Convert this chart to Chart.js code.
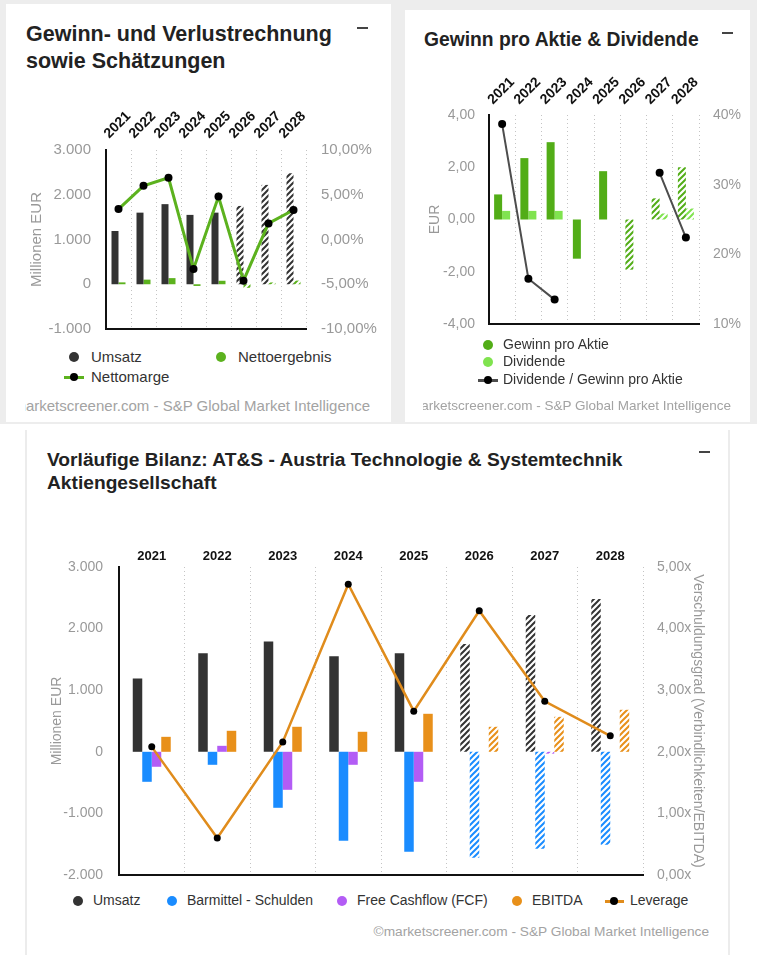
<!DOCTYPE html>
<html>
<head>
<meta charset="utf-8">
<script src="https://cdn.jsdelivr.net/npm/chart.js@4.4.1/dist/chart.umd.min.js"></script>
<style>
  body { margin: 0; width: 757px; height: 960px; background: #fff; position: relative; overflow: hidden;
         font-family: "Liberation Sans", Arial, sans-serif; }
  .band { position: absolute; left: 0; top: 0; width: 757px; height: 424px; background: #ededed; }
  .card { position: absolute; background: #fff; }
  .title { position: absolute; font-weight: bold; color: #222; white-space: nowrap; }
  .dash { position: absolute; width: 11px; height: 2px; background: #444; }
  canvas { position: absolute; }
  .lg { position: absolute; color: #333; white-space: nowrap; }
  .dot { position: absolute; border-radius: 50%; }
  .bar { position: absolute; height: 3px; }
  .foot { position: absolute; overflow: hidden; white-space: nowrap; color: #a3a3a3; }
  .foot span { position: absolute; right: 0; top: 0; }
</style>
</head>
<body>
<div class="band"></div>

<!-- Karte 1 -->
<div class="card" style="left:6px;top:4px;width:385px;height:418px"></div>
<div class="title" style="left:26px;top:21px;font-size:21.5px;line-height:27px">Gewinn- und Verlustrechnung<br>sowie Schätzungen</div>
<div class="dash" style="left:357px;top:27px"></div>
<canvas id="guv" width="360" height="256" style="left:20px;top:90px"></canvas>
<div class="dot" style="left:69px;top:352px;width:10px;height:10px;background:#333"></div>
<div class="lg" style="left:91px;top:348px;font-size:15px;line-height:18px">Umsatz</div>
<div class="dot" style="left:216px;top:352px;width:10px;height:10px;background:#5cb21e"></div>
<div class="lg" style="left:238px;top:348px;font-size:15px;line-height:18px">Nettoergebnis</div>
<div class="bar" style="left:64px;top:376px;width:20px;background:#5cb21e"></div>
<div class="dot" style="left:70px;top:373px;width:8px;height:8px;background:#000"></div>
<div class="lg" style="left:91px;top:368px;font-size:15px;line-height:18px">Nettomarge</div>
<div class="foot" style="left:25px;top:396px;width:345px;height:19px;font-size:15px;line-height:19px"><span>©marketscreener.com - S&amp;P Global Market Intelligence</span></div>

<!-- Karte 2 -->
<div class="card" style="left:405px;top:10px;width:345px;height:412px"></div>
<div class="title" style="left:424px;top:29px;font-size:19.3px;line-height:22px">Gewinn pro Aktie &amp; Dividende</div>
<div class="dash" style="left:722px;top:32px"></div>
<canvas id="gpa" width="335" height="280" style="left:415px;top:60px"></canvas>
<div class="dot" style="left:483px;top:340px;width:10px;height:10px;background:#52ad17"></div>
<div class="lg" style="left:503px;top:336px;font-size:14px;line-height:17px">Gewinn pro Aktie</div>
<div class="dot" style="left:483px;top:357px;width:10px;height:10px;background:#80e34f"></div>
<div class="lg" style="left:503px;top:353px;font-size:14px;line-height:17px">Dividende</div>
<div class="bar" style="left:478px;top:379px;width:20px;background:#4d4d4d"></div>
<div class="dot" style="left:484px;top:376px;width:8px;height:8px;background:#000"></div>
<div class="lg" style="left:503px;top:371px;font-size:14px;line-height:17px">Dividende / Gewinn pro Aktie</div>
<div class="foot" style="left:423px;top:397px;width:308px;height:18px;font-size:13.5px;line-height:18px"><span>©marketscreener.com - S&amp;P Global Market Intelligence</span></div>

<!-- Karte 3 -->
<div class="card" style="left:25px;top:430px;width:701px;height:525px;border-left:2px solid #ececec;border-right:2px solid #ececec"></div>
<div class="title" style="left:47px;top:448px;font-size:19.2px;line-height:23px">Vorläufige Bilanz: AT&amp;S - Austria Technologie &amp; Systemtechnik<br>Aktiengesellschaft</div>
<div class="dash" style="left:699px;top:451px"></div>
<canvas id="bilanz" width="680" height="357" style="left:40px;top:535px"></canvas>
<div class="dot" style="left:73px;top:896px;width:10px;height:10px;background:#333"></div>
<div class="lg" style="left:93px;top:892px;font-size:14px;line-height:17px">Umsatz</div>
<div class="dot" style="left:167px;top:896px;width:10px;height:10px;background:#1a8cff"></div>
<div class="lg" style="left:187px;top:892px;font-size:14px;line-height:17px">Barmittel - Schulden</div>
<div class="dot" style="left:337px;top:896px;width:10px;height:10px;background:#b35cf5"></div>
<div class="lg" style="left:357px;top:892px;font-size:14px;line-height:17px">Free Cashflow (FCF)</div>
<div class="dot" style="left:512px;top:896px;width:10px;height:10px;background:#e8901a"></div>
<div class="lg" style="left:532px;top:892px;font-size:14px;line-height:17px">EBITDA</div>
<div class="bar" style="left:605px;top:900px;width:19px;background:#e08c1c"></div>
<div class="dot" style="left:610px;top:897px;width:8px;height:8px;background:#000"></div>
<div class="lg" style="left:630px;top:892px;font-size:14px;line-height:17px">Leverage</div>
<div class="foot" style="left:360px;top:923px;width:349px;height:18px;font-size:13.7px;line-height:18px"><span>©marketscreener.com - S&amp;P Global Market Intelligence</span></div>

<script>
const years = ['2021', '2022', '2023', '2024', '2025', '2026', '2027', '2028'];
const firstEstimate = 5; // ab 2026 Schätzungen (schraffiert)

// Gewinn- und Verlustrechnung (Mio. EUR / %)
const umsatz = [1190, 1600, 1790, 1550, 1600, 1750, 2220, 2480];
const nettoergebnis = [42, 103, 137, -38, 78, -80, 40, 82];
const nettomarge = [3.4, 6.0, 6.9, -3.3, 4.8, -4.6, 1.8, 3.3];

// Gewinn pro Aktie & Dividende (EUR / %)
const gewinnProAktie = [0.96, 2.35, 2.96, -1.50, 1.85, -1.92, 0.81, 2.00];
const dividende = [0.33, 0.33, 0.33, null, null, null, 0.23, 0.42];
const ausschuettung = [38.7, 16.5, 13.5, null, null, null, 31.7, 22.4];

// Bilanz (Mio. EUR / x)
const barmittelSchulden = [-487, -211, -909, -1445, -1623, -1721, -1575, -1510];
const freeCashflow = [-243, 97, -617, -211, -487, 0, -30, 0];
const ebitda = [243, 341, 406, 325, 617, 406, 568, 682];
const leverage = [2.08, 0.60, 2.16, 4.72, 2.66, 4.29, 2.82, 2.26];

Chart.defaults.font.family = '"Liberation Sans", Arial, sans-serif';
Chart.defaults.animation = false;
Chart.defaults.plugins.legend.display = false;
Chart.defaults.plugins.tooltip.enabled = false;

function hatch(color) {
  const c = document.createElement('canvas');
  c.width = 6; c.height = 6;
  const g = c.getContext('2d');
  g.strokeStyle = color;
  g.lineWidth = 2;
  g.beginPath();
  g.moveTo(0, 6); g.lineTo(6, 0);
  g.moveTo(-1, 1); g.lineTo(1, -1);
  g.moveTo(5, 7); g.lineTo(7, 5);
  g.stroke();
  return g.createPattern(c, 'repeat');
}

function fill(color) {
  const p = hatch(color);
  return ctx => ctx.dataIndex >= firstEstimate ? p : color;
}

const thousands = v => String(v).replace(/\B(?=(\d{3})+(?!\d))/g, '.');
const comma = (v, d) => v.toFixed(d).replace('.', ',');

function topAxis(size, rotation, height, pad) {
  return {
    position: 'top',
    grid: { color: '#c4c4c4', drawTicks: false, lineWidth: 1 },
    border: { display: false, dash: [1, 3] },
    ticks: { color: '#111', font: { size: size, weight: 'bold' }, minRotation: rotation, maxRotation: rotation,
             padding: pad, autoSkip: false },
    afterFit: s => { s.height = height; }
  };
}

// nur die schwarze Grundlinie unten
function bottomLine(height) {
  return {
    type: 'category', position: 'bottom',
    grid: { display: false }, ticks: { display: false },
    border: { display: true, color: '#111', width: 2 },
    afterFit: s => { s.height = height; }
  };
}

// Chart 1
new Chart(document.getElementById('guv'), {
  type: 'bar',
  data: {
    labels: years,
    datasets: [
      { type: 'line', label: 'Nettomarge', data: nettomarge, yAxisID: 'y1', order: 0,
        borderColor: '#5cb21e', borderWidth: 3, pointRadius: 4, pointBackgroundColor: '#000',
        pointBorderWidth: 0, tension: 0 },
      { label: 'Umsatz', data: umsatz, backgroundColor: fill('#333'), order: 1 },
      { label: 'Nettoergebnis', data: nettoergebnis, backgroundColor: fill('#5cb21e'), order: 1 }
    ]
  },
  options: {
    responsive: false,
    devicePixelRatio: 1,
    layout: { padding: { left: 4, right: 0, top: 0, bottom: 0 } },
    datasets: { bar: { categoryPercentage: 0.56, barPercentage: 1 } },
    scales: {
      x: topAxis(14, 45, 60, 8),
      xb: bottomLine(17),
      y: {
        position: 'left', min: -1000, max: 3000,
        ticks: { stepSize: 1000, color: '#999', font: { size: 15 }, padding: 7, callback: v => thousands(v) },
        grid: { display: false },
        border: { display: true, color: '#111', width: 2 },
        title: { display: true, text: 'Millionen EUR', color: '#999', font: { size: 15 } },
        afterFit: s => { s.width = 82; }
      },
      y1: {
        position: 'right', min: -10, max: 10,
        ticks: { stepSize: 5, color: '#999', font: { size: 15 }, padding: 7, callback: v => comma(v, 2) + '%' },
        grid: { display: false }, border: { display: false },
        afterFit: s => { s.width = 74; }
      }
    }
  }
});

// Chart 2
new Chart(document.getElementById('gpa'), {
  type: 'bar',
  data: {
    labels: years,
    datasets: [
      { type: 'line', label: 'Dividende / Gewinn pro Aktie', data: ausschuettung, yAxisID: 'y1', order: 0,
        borderColor: '#4d4d4d', borderWidth: 2, pointRadius: 4, pointBackgroundColor: '#000',
        pointBorderWidth: 0, spanGaps: false },
      { label: 'Gewinn pro Aktie', data: gewinnProAktie, backgroundColor: fill('#52ad17'), order: 1 },
      { label: 'Dividende', data: dividende, backgroundColor: fill('#80e34f'), order: 1 }
    ]
  },
  options: {
    responsive: false,
    devicePixelRatio: 1,
    layout: { padding: { left: 8, right: 0, top: 0, bottom: 0 } },
    datasets: { bar: { categoryPercentage: 0.61, barPercentage: 1 } },
    scales: {
      x: topAxis(14, 45, 55, 7),
      xb: bottomLine(16),
      y: {
        position: 'left', min: -4, max: 4,
        ticks: { stepSize: 2, color: '#999', font: { size: 14 }, padding: 6, callback: v => comma(v, 2) },
        grid: { display: false },
        border: { display: true, color: '#111', width: 2 },
        title: { display: true, text: 'EUR', color: '#999', font: { size: 14 } },
        afterFit: s => { s.width = 66; }
      },
      y1: {
        position: 'right', min: 10, max: 40,
        ticks: { stepSize: 10, color: '#999', font: { size: 14 }, padding: 6, callback: v => v + '%' },
        grid: { display: false }, border: { display: false },
        afterFit: s => { s.width = 51; }
      }
    }
  }
});

// Chart 3
new Chart(document.getElementById('bilanz'), {
  type: 'bar',
  data: {
    labels: years,
    datasets: [
      { type: 'line', label: 'Leverage', data: leverage, yAxisID: 'y1', order: 0,
        borderColor: '#e08c1c', borderWidth: 2.5, pointRadius: 3.5, pointBackgroundColor: '#000',
        pointBorderWidth: 0, tension: 0 },
      { label: 'Umsatz', data: umsatz, backgroundColor: fill('#333'), order: 1 },
      { label: 'Barmittel - Schulden', data: barmittelSchulden, backgroundColor: fill('#1a8cff'), order: 1 },
      { label: 'Free Cashflow (FCF)', data: freeCashflow, backgroundColor: fill('#b35cf5'), order: 1 },
      { label: 'EBITDA', data: ebitda, backgroundColor: fill('#e8901a'), order: 1 }
    ]
  },
  options: {
    responsive: false,
    devicePixelRatio: 1,
    layout: { padding: { left: 5, right: 10, top: 0, bottom: 0 } },
    datasets: { bar: { categoryPercentage: 0.58, barPercentage: 1 } },
    scales: {
      x: topAxis(13, 0, 32, 3),
      xb: bottomLine(17),
      y: {
        position: 'left', min: -2000, max: 3000,
        ticks: { stepSize: 1000, color: '#999', font: { size: 14 }, padding: 8, callback: v => thousands(v) },
        grid: { display: false },
        border: { display: true, color: '#111', width: 2 },
        title: { display: true, text: 'Millionen EUR', color: '#999', font: { size: 14 } },
        afterFit: s => { s.width = 74; }
      },
      y1: {
        position: 'right', min: 0, max: 5,
        ticks: { stepSize: 1, color: '#999', font: { size: 14 }, padding: 6, callback: v => comma(v, 2) + 'x' },
        grid: { display: false }, border: { display: false },
        title: { display: true, text: 'Verschuldungsgrad (Verbindlichkeiten/EBITDA)', color: '#999', font: { size: 14 } },
        afterFit: s => { s.width = 67; }
      }
    }
  }
});
</script>
</body>
</html>
